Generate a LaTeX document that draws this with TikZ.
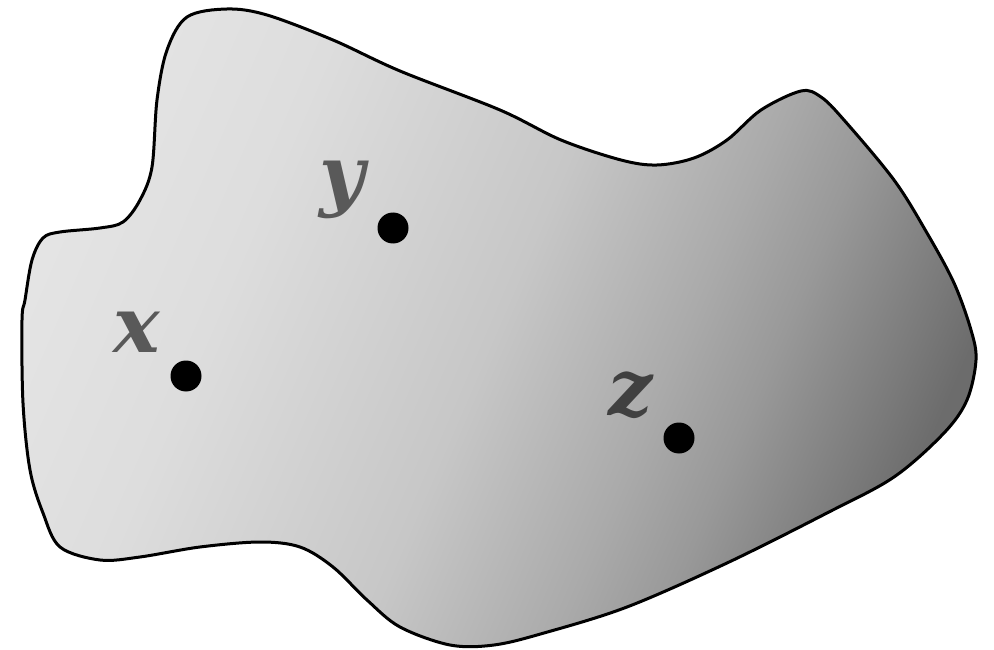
\documentclass[tikz,border=0pt]{standalone}
\usepackage{fontspec}
\newfontfamily\labelfont{DejaVu Serif}
\definecolor{s0}{gray}{0.894}
\definecolor{s1}{gray}{0.867}
\definecolor{s2}{gray}{0.780}
\definecolor{s3}{gray}{0.667}
\definecolor{s4}{gray}{0.600}
\definecolor{s5}{gray}{0.478}
\definecolor{s6}{gray}{0.424}
\definecolor{labgray}{HTML}{595959}
\definecolor{labdark}{HTML}{404040}
\pgfdeclarehorizontalshading{blobshade}{100bp}{color(0bp)=(s0); color(25bp)=(s0); color(35bp)=(s1); color(50bp)=(s2); color(60bp)=(s3); color(65bp)=(s4); color(72bp)=(s5); color(75bp)=(s6); color(100bp)=(s6)}
\begin{document}
\begin{tikzpicture}[x=1pt,y=-1pt,
  dot/.style={circle,fill=black,minimum size=31pt,inner sep=0pt},
  lab/.style={font=\labelfont\bfseries\itshape\fontsize{78}{78}\selectfont,anchor=base,inner sep=0pt},
  outline/.style={line width=3pt,line join=round}]
\useasboundingbox (0,0) rectangle (994,650);
\path[save path=\blob] plot[smooth cycle, tension=0.55] coordinates {
 (227,9) (267,15) (333,40) (400,71) (500,110) (561,140) (621,160) (657,165)
 (694,158) (727,140) (761,110) (801,91) (821,97) (844,120) (894,180) (927,233)
 (954,283) (971,330) (976,360) (967,400) (944,433) (894,477) (827,513) (727,563)
 (627,607) (544,633) (494,645) (450,645) (400,627) (367,600) (333,567) (300,547)
 (260,542) (200,547) (140,557) (100,560) (60,547) (43,513) (30,470) (23,403)
 (22,320) (25,300) (32,260) (43,238) (60,232) (100,228) (123,222) (140,200)
 (152,167) (157,100) (167,50) (187,17)};
\begin{scope}
\path[use path=\blob, clip];
\shade[shading=blobshade, shading angle=-23.35] (0,0) rectangle (994,650);
\end{scope}
\draw[outline, use path=\blob];
\node[dot] (px) at (186,376) {};
\node[dot] (py) at (393,228) {};
\node[dot] (pz) at (679,438) {};
\node[lab, text=labgray] (lx) at (137,352) {x};
\node[lab, text=labgray] (ly) at (342,202) {y};
\node[lab, text=labdark] (lz) at (631,415) {z};
\end{tikzpicture}
\end{document}
